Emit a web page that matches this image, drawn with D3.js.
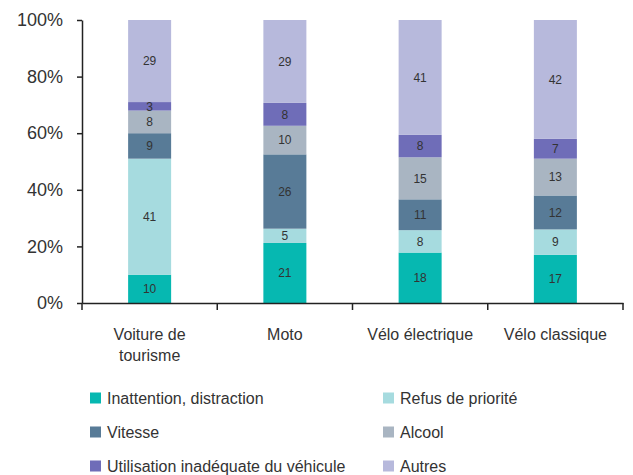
<!DOCTYPE html>
<html>
<head>
<meta charset="utf-8">
<script src="https://cdn.jsdelivr.net/npm/d3@7"></script>
<style>
  body { margin: 0; background: #fff; }
  svg text { font-family: "Liberation Sans", Arial, sans-serif; fill: #333; }
</style>
</head>
<body>
<svg width="633" height="475"></svg>
<script>
// categories on x
var categories = ["Voiture de tourisme", "Moto", "Vélo électrique", "Vélo classique"];

// series (bottom to top)
var seriesNames = ["Inattention, distraction", "Refus de priorité", "Vitesse", "Alcool",
                   "Utilisation inadéquate du véhicule", "Autres"];
var inattention = [10, 21, 18, 17];
var refus       = [41, 5, 8, 9];
var vitesse     = [9, 26, 11, 12];
var alcool      = [8, 10, 15, 13];
var utilisation = [3, 8, 8, 7];
var autres      = [29, 29, 41, 42];

var yTicks = [0, 0.2, 0.4, 0.6, 0.8, 1];
var colors = ["#06b8b1", "#a6dbdf", "#587b97", "#a9b5c2", "#6f6db8", "#b7b9dc"];

var seriesValues = [inattention, refus, vitesse, alcool, utilisation, autres];
var data = categories.map(function(c, i) {
    var row = { cat: c };
    seriesNames.forEach(function(s, j) { row[s] = seriesValues[j][i]; });
    return row;
});

var svg = d3.select("svg");
var plotLeft = 82, plotRight = 623, plotTop = 20, plotBottom = 303;

var x = d3.scaleBand().domain(categories).range([plotLeft, plotRight]).padding(0);
var y = d3.scaleLinear().domain([0, 1]).range([plotBottom, plotTop]);
var color = d3.scaleOrdinal().domain(seriesNames).range(colors);

var stack = d3.stack().keys(seriesNames).offset(d3.stackOffsetExpand);
var stacked = stack(data);

var barW = x.bandwidth() * 0.318;

var layers = svg.append("g").selectAll("g")
    .data(stacked)
    .enter().append("g")
    .attr("fill", function(d) { return color(d.key); });

layers.selectAll("rect")
    .data(function(d) { return d; })
    .enter().append("rect")
    .attr("x", function(d) { return x(d.data.cat) + (x.bandwidth() - barW) / 2; })
    .attr("y", function(d) { return y(d[1]); })
    .attr("width", barW)
    .attr("height", function(d) { return y(d[0]) - y(d[1]); });

// value labels
stacked.forEach(function(layer) {
    svg.append("g").selectAll("text")
        .data(layer)
        .enter().append("text")
        .attr("x", function(d) { return x(d.data.cat) + x.bandwidth() / 2; })
        .attr("y", function(d) { return (y(d[0]) + y(d[1])) / 2; })
        .attr("dy", "0.36em")
        .attr("text-anchor", "middle")
        .style("font-size", "12px")
        .text(function(d) { return d.data[layer.key]; });
});

// y axis
var yAxis = svg.append("g")
    .attr("transform", "translate(" + plotLeft + ",0)")
    .call(d3.axisLeft(y).tickValues(yTicks).tickFormat(d3.format(".0%"))
        .tickSize(5).tickSizeOuter(0).tickPadding(14));
yAxis.selectAll("text").style("font-size", "18px");
yAxis.selectAll("line, path").attr("stroke", "#222").attr("stroke-width", 1.5);

// x axis
var xAxis = svg.append("g")
    .attr("transform", "translate(0," + plotBottom + ")")
    .call(d3.axisBottom(x).tickSize(0).tickPadding(26));
xAxis.select("path").attr("stroke", "#222").attr("stroke-width", 1.5);
xAxis.selectAll("text").style("font-size", "16px");

// boundary ticks
var bounds = [plotLeft].concat(categories.map(function(c) { return x(c) + x.bandwidth(); }));
xAxis.selectAll(".bound")
    .data(bounds)
    .enter().append("line")
    .attr("class", "bound")
    .attr("x1", function(d) { return d; })
    .attr("x2", function(d) { return d; })
    .attr("y1", 0)
    .attr("y2", 7)
    .attr("stroke", "#222")
    .attr("stroke-width", 1.5);

// wrap long labels
xAxis.selectAll(".tick text").each(function() {
    var t = d3.select(this);
    var words = t.text().split(" ");
    if (t.node().getComputedTextLength() < x.bandwidth() - 20) return;
    var lines = [], line = [];
    t.text(null);
    var probe = t.append("tspan");
    words.forEach(function(w) {
        line.push(w);
        probe.text(line.join(" "));
        if (probe.node().getComputedTextLength() > x.bandwidth() - 50 && line.length > 1) {
            line.pop();
            lines.push(line.join(" "));
            line = [w];
        }
    });
    lines.push(line.join(" "));
    probe.remove();
    var yy = t.attr("y"), dy = t.attr("dy");
    lines.forEach(function(l, i) {
        t.append("tspan").attr("x", 0).attr("y", yy)
            .attr("dy", (parseFloat(dy) + i * 1.3) + "em").text(l);
    });
});

// legend
var legX = [90, 383], legY = [398, 432, 466];
var legend = svg.append("g").selectAll("g")
    .data(seriesNames)
    .enter().append("g")
    .attr("transform", function(d, i) {
        return "translate(" + legX[i % 2] + "," + legY[Math.floor(i / 2)] + ")";
    });
legend.append("rect")
    .attr("x", 0).attr("y", -5.5)
    .attr("width", 11).attr("height", 11)
    .attr("fill", function(d) { return color(d); });
legend.append("text")
    .attr("x", 17).attr("dy", "0.36em")
    .style("font-size", "16px")
    .text(function(d) { return d; });
</script>
</body>
</html>
